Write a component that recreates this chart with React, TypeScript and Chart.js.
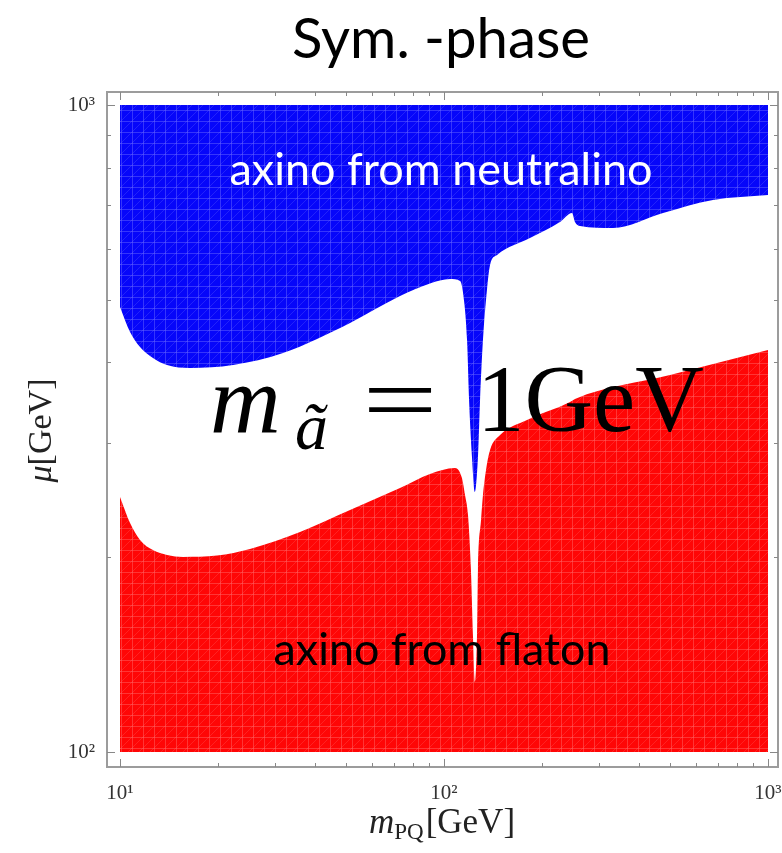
import React, { useEffect, useRef } from "react";
import { Chart, registerables } from "chart.js";

Chart.register(...registerables);

// Boundary of the "axino from neutralino" region (blue, filled up to the top)
const upperMPQ = [10, 10.74, 11.53, 12.64, 13.97, 16.44, 22.33, 31.85, 51.29, 73.15, 90.5, 104.4, 112.1, 114.4, 117.8, 119.5, 122.0, 124.6, 127.3, 129.2, 131.9, 135.7, 138.7, 145.8, 184.2, 228.0, 248.4, 253.7, 262.9, 332.4, 474.2, 676.4, 1000];
const upperMu = [487.3, 445.8, 422.7, 406.4, 396.4, 392.2, 396.4, 413.7, 460.5, 506.8, 530.0, 538.4, 534.6, 514.0, 433.5, 349.9, 285.7, 252.3, 285.7, 349.9, 433.5, 517.7, 565.8, 586.4, 623.0, 659.5, 681.0, 659.5, 650.2, 645.6, 681.0, 713.3, 726.1];

// Boundary of the "axino from flaton" region (red, filled down to the bottom)
const lowerMPQ = [10, 10.74, 11.53, 12.64, 13.97, 15.65, 19.93, 25.19, 35.94, 51.29, 73.15, 90.5, 108.1, 113.6, 116.1, 118.6, 121.1, 122.9, 124.6, 126.4, 127.3, 130.1, 131.9, 134.8, 138.7, 148.9, 180.4, 244.9, 253.7, 498.4, 1000];
const lowerMu = [247.9, 225.9, 212.7, 205.2, 201.6, 200.2, 201.2, 206.0, 218.8, 236.6, 255.9, 269.0, 274.8, 265.1, 249.6, 232.4, 191.1, 150.6, 128.3, 150.6, 191.1, 228.4, 249.6, 272.9, 293.0, 309.0, 326.0, 347.5, 351.2, 382.4, 418.2];

const xTickValues = [10, 100, 1000];
const xTickLabels = ["10\u00B9", "10\u00B2", "10\u00B3"];
const yTickValues = [100, 1000];
const yTickLabels = ["10\u00B2", "10\u00B3"];
const xMinorTicks = [20, 30, 40, 50, 60, 70, 80, 90, 200, 300, 400, 500, 600, 700, 800, 900];
const yMinorTicks = [200, 300, 400, 500, 600, 700, 800, 900];

const titleText = "Sym. -phase";
const upperRegionLabel = "axino from neutralino";
const lowerRegionLabel = "axino from flaton";

function makePattern(base: string, light: string): CanvasPattern | string {
  const c = document.createElement("canvas");
  c.width = 11;
  c.height = 11;
  const g = c.getContext("2d");
  if (!g) return base;
  g.fillStyle = base;
  g.fillRect(0, 0, 11, 11);
  g.strokeStyle = light;
  g.lineWidth = 1;
  g.beginPath();
  g.moveTo(0.5, 0);
  g.lineTo(0.5, 11);
  g.moveTo(0, 0.5);
  g.lineTo(11, 0.5);
  g.stroke();
  g.globalAlpha = 0.6;
  g.beginPath();
  g.moveTo(0, 11);
  g.lineTo(11, 0);
  g.stroke();
  return g.createPattern(c, "repeat") || base;
}

function fitFont(ctx: CanvasRenderingContext2D, text: string, family: string, targetWidth: number, style = "") {
  ctx.font = `${style} 100px ${family}`;
  const w = ctx.measureText(text).width;
  const size = (100 * targetWidth) / w;
  ctx.font = `${style} ${size}px ${family}`;
}

const decorPlugin = {
  id: "decor",
  afterDraw(chart: any) {
    const { ctx, chartArea: a, scales } = chart;
    const xs = scales.x;
    const ys = scales.y;
    ctx.save();

    // frame
    const L = a.left - 13;
    const T = a.top - 13;
    const R = a.right + 10;
    const B = a.bottom + 15;
    ctx.strokeStyle = "#9c9c9c";
    ctx.lineWidth = 2;
    ctx.strokeRect(L, T, R - L, B - T);

    // ticks
    ctx.strokeStyle = "#888";
    ctx.lineWidth = 1;
    ctx.beginPath();
    const xt = (v: number, len: number) => {
      const px = Math.round(xs.getPixelForValue(v)) + 0.5;
      ctx.moveTo(px, B);
      ctx.lineTo(px, B - len);
      ctx.moveTo(px, T);
      ctx.lineTo(px, T + len);
    };
    const yt = (v: number, len: number) => {
      const py = Math.round(ys.getPixelForValue(v)) + 0.5;
      ctx.moveTo(L, py);
      ctx.lineTo(L + len, py);
      ctx.moveTo(R, py);
      ctx.lineTo(R - len, py);
    };
    xTickValues.forEach((v) => xt(v, 8));
    xMinorTicks.forEach((v) => xt(v, 4));
    yTickValues.forEach((v) => yt(v, 8));
    yMinorTicks.forEach((v) => yt(v, 4));
    ctx.stroke();

    const cx = (a.left + a.right) / 2;

    // title
    ctx.fillStyle = "#000";
    ctx.textAlign = "center";
    ctx.textBaseline = "alphabetic";
    fitFont(ctx, titleText, "Lato", 298);
    ctx.fillText(titleText, cx - 3, 58);

    // region labels
    fitFont(ctx, upperRegionLabel, "Lato", 423);
    ctx.fillStyle = "#ffffff";
    ctx.fillText(upperRegionLabel, cx - 3, 185);
    fitFont(ctx, lowerRegionLabel, "Lato", 337);
    ctx.fillStyle = "#000000";
    ctx.fillText(lowerRegionLabel, cx - 2, 665);

    // m_{\tilde a} = 1GeV
    ctx.textAlign = "left";
    ctx.fillStyle = "#000";
    ctx.font = "italic 98px 'Liberation Serif'";
    ctx.fillText("m", 210, 432);
    ctx.font = "italic 66px 'Liberation Serif'";
    ctx.fillText("\u00E3", 295, 449);
    ctx.save();
    ctx.translate(400, 432);
    ctx.scale(1.4, 1);
    ctx.font = "95px 'Liberation Serif'";
    ctx.textAlign = "center";
    ctx.fillText("=", 0, 0);
    ctx.restore();
    ctx.font = "95px 'Liberation Serif'";
    ctx.textAlign = "left";
    ctx.fillText("1GeV", 477, 431);

    // x axis title: m_PQ[GeV]
    ctx.fillStyle = "#222";
    const mFont = "italic 35px 'Liberation Serif'";
    const subFont = "23px 'Liberation Serif'";
    const mainFont = "35px 'Liberation Serif'";
    ctx.font = mFont;
    const wm = ctx.measureText("m").width;
    ctx.font = subFont;
    const wsub = ctx.measureText("PQ").width;
    ctx.font = mainFont;
    const wg = ctx.measureText("[GeV]").width;
    const total = wm + wsub + 2 + wg;
    let x0 = cx - 2 - total / 2;
    ctx.textAlign = "left";
    ctx.font = mFont;
    ctx.fillText("m", x0, 833);
    x0 += wm;
    ctx.font = subFont;
    ctx.fillText("PQ", x0, 839);
    x0 += wsub + 2;
    ctx.font = mainFont;
    ctx.fillText("[GeV]", x0, 833);

    // y axis title: mu[GeV]
    ctx.save();
    ctx.translate(51, (a.top + a.bottom) / 2 + 2);
    ctx.rotate(-Math.PI / 2);
    ctx.font = "italic 34px 'Liberation Serif'";
    const wmu = ctx.measureText("\u03BC").width;
    ctx.font = "34px 'Liberation Serif'";
    const wg2 = ctx.measureText("[GeV]").width;
    const y0 = -(wmu + wg2) / 2;
    ctx.font = "italic 34px 'Liberation Serif'";
    ctx.fillText("\u03BC", y0, 0);
    ctx.font = "34px 'Liberation Serif'";
    ctx.fillText("[GeV]", y0 + wmu, 0);
    ctx.restore();

    ctx.restore();
  },
};

export default function App() {
  const canvasRef = useRef<HTMLCanvasElement | null>(null);

  useEffect(() => {
    document.body.style.margin = "0";
    const canvas = canvasRef.current;
    if (!canvas) return;
    const blueFill = makePattern("rgb(6,6,250)", "rgba(110,110,255,0.45)");
    const redFill = makePattern("rgb(255,6,6)", "rgba(255,110,110,0.45)");

    const chart = new Chart(canvas, {
      type: "line",
      data: {
        datasets: [
          {
            label: upperRegionLabel,
            data: upperMPQ.map((m, i) => ({ x: m, y: upperMu[i] })),
            borderWidth: 0,
            borderColor: "rgba(0,0,0,0)",
            backgroundColor: blueFill as any,
            pointRadius: 0,
            fill: "end",
            cubicInterpolationMode: "monotone",
          },
          {
            label: lowerRegionLabel,
            data: lowerMPQ.map((m, i) => ({ x: m, y: lowerMu[i] })),
            borderWidth: 0,
            borderColor: "rgba(0,0,0,0)",
            backgroundColor: redFill as any,
            pointRadius: 0,
            fill: "start",
            cubicInterpolationMode: "monotone",
          },
        ],
      },
      options: {
        animation: false,
        responsive: false,
        devicePixelRatio: 1,
        events: [],
        layout: { padding: { top: 105, right: 14, left: 0, bottom: 0 } },
        plugins: {
          legend: { display: false },
          tooltip: { enabled: false },
          title: { display: false },
        },
        scales: {
          x: {
            type: "logarithmic",
            min: 10,
            max: 1000,
            grid: { display: false, drawTicks: false },
            border: { display: false },
            afterFit: (scale: any) => {
              scale.height = 101;
              scale.paddingLeft = 0;
              scale.paddingRight = 0;
            },
            afterBuildTicks: (scale: any) => {
              scale.ticks = xTickValues.map((v) => ({ value: v }));
            },
            ticks: {
              autoSkip: false,
              maxRotation: 0,
              padding: 29,
              color: "#333",
              font: { family: "'Liberation Serif'", size: 21 },
              callback: (_v: any, i: number) => xTickLabels[i],
            },
          },
          y: {
            type: "logarithmic",
            min: 100,
            max: 1000,
            grid: { display: false, drawTicks: false },
            border: { display: false },
            afterFit: (scale: any) => {
              scale.width = 120;
              scale.paddingTop = 0;
              scale.paddingBottom = 0;
            },
            afterBuildTicks: (scale: any) => {
              scale.ticks = yTickValues.map((v) => ({ value: v }));
            },
            ticks: {
              autoSkip: false,
              padding: 25,
              color: "#333",
              font: { family: "'Liberation Serif'", size: 21 },
              callback: (_v: any, i: number) => yTickLabels[i],
            },
          },
        },
      },
      plugins: [decorPlugin],
    });
    return () => chart.destroy();
  }, []);

  return (
    <div style={{ width: 782, height: 853, background: "#fff" }}>
      <canvas ref={canvasRef} width={782} height={853} style={{ display: "block" }} />
    </div>
  );
}
